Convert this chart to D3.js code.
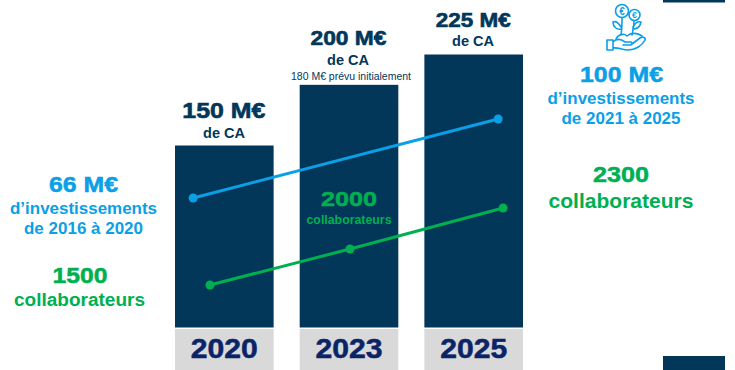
<!DOCTYPE html>
<html>
<head>
<meta charset="utf-8">
<script src="https://cdn.jsdelivr.net/npm/d3@7"></script>
<style>
  html, body { margin: 0; padding: 0; background: #fff; }
  text { font-family: "Liberation Sans", Arial, sans-serif; font-weight: bold; text-anchor: middle; }
</style>
</head>
<body>
<div id="chart"></div>
<script>
// chart values
var years = ["2020", "2023", "2025"];
var revenue = [150, 200, 225];
var revenueLabels = ["150 M€", "200 M€", "225 M€"];

// investment line : position is in bar slots (0 = centre of first bar)
var investSlots = [-0.25, 2.196];
var investValues = [66, 100];

// staff line
var staffSlots = [-0.115, 1.008, 2.236];
var staffValues = [1500, 2000, 2300];

var navy = "#02375a", blue = "#0a9fe6", green = "#00b050", yearColor = "#0a2468";

var svg = d3.select("#chart")
  .append("svg")
    .attr("width", 735)
    .attr("height", 370)
    .style("display", "block");

// X scale for the bars
var x = d3.scaleBand()
  .domain(years)
  .range([175, 523])
  .paddingInner(0.209)
  .paddingOuter(0);

// same horizontal space, counted in bar slots, for the lines
var slot = d3.scaleLinear()
  .domain([0, 2])
  .range([x("2020") + x.bandwidth() / 2, x("2025") + x.bandwidth() / 2]);

// Y scale : bars start at zero
var y = d3.scaleLinear()
  .domain([0, 225])
  .range([327.5, 54.5]);

var yInvest = d3.scaleLinear().domain([66, 100]).range([198, 119]);
var yStaff = d3.scaleLinear().domain([1500, 2000, 2300]).range([285, 249, 208]);

// Bars
svg.selectAll("rect.bar")
  .data(years)
  .enter()
  .append("rect")
    .attr("class", "bar")
    .attr("x", function(d) { return x(d); })
    .attr("y", function(d, i) { return y(revenue[i]); })
    .attr("width", x.bandwidth())
    .attr("height", function(d, i) { return y(0) - y(revenue[i]); })
    .attr("fill", navy);

// grey year boxes
svg.selectAll("rect.year")
  .data(years)
  .enter()
  .append("rect")
    .attr("class", "year")
    .attr("x", function(d) { return x(d); })
    .attr("y", 329)
    .attr("width", x.bandwidth())
    .attr("height", 41)
    .attr("fill", "#d9d9d9");

svg.selectAll("text.year")
  .data(years)
  .enter()
  .append("text")
    .attr("class", "year")
    .attr("x", function(d) { return x(d) + x.bandwidth() / 2; })
    .attr("y", 358)
    .attr("font-size", 27)
    .attr("textLength", 67)
    .attr("lengthAdjust", "spacingAndGlyphs")
    .attr("stroke", yearColor)
    .attr("stroke-width", 0.5)
    .attr("fill", yearColor)
    .text(function(d) { return d; });

// Lines
function drawLine(slots, values, yScale, color) {
  var pts = slots.map(function(s, i) { return [slot(s), yScale(values[i])]; });
  svg.append("path")
    .attr("d", d3.line()(pts))
    .attr("fill", "none")
    .attr("stroke", color)
    .attr("stroke-width", 3);
  svg.selectAll(null)
    .data(pts)
    .enter()
    .append("circle")
      .attr("cx", function(d) { return d[0]; })
      .attr("cy", function(d) { return d[1]; })
      .attr("r", 4.5)
      .attr("fill", color);
}
drawLine(investSlots, investValues, yInvest, blue);
drawLine(staffSlots, staffValues, yStaff, green);

// Big figures above the bars, the middle one sits higher because of the note under it
var revGap = [28, 40, 28];
var revSize = [22, 20, 20];
var revWidth = [83, 76, 75];
svg.selectAll("text.rev")
  .data(revenueLabels)
  .enter()
  .append("text")
    .attr("class", "rev")
    .attr("x", function(d, i) { return x(years[i]) + x.bandwidth() / 2 - 0.5; })
    .attr("y", function(d, i) { return y(revenue[i]) - revGap[i]; })
    .attr("font-size", function(d, i) { return revSize[i]; })
    .attr("textLength", function(d, i) { return revWidth[i]; })
    .attr("lengthAdjust", "spacingAndGlyphs")
    .attr("stroke", navy)
    .attr("stroke-width", 0.6)
    .attr("fill", navy)
    .text(function(d) { return d; });

// other text : [x, y, text, size, colour, width]
var notes = [
  [224, 138, "de CA", 15, navy, 42],
  [348, 64.5, "de CA", 15, navy, 42],
  [473, 45.5, "de CA", 15, navy, 42],
  [351, 80, "180 M€ prévu initialement", 10.5, navy, 120],
  [83.5, 192, "66 M€", 22, blue, 69],
  [83.5, 214, "d’investissements", 17, blue, 147],
  [83.5, 234, "de 2016 à 2020", 17, blue, 119],
  [80, 283, "1500", 22, green, 55],
  [79.5, 306, "collaborateurs", 18, green, 131],
  [621.5, 82, "100 M€", 22, blue, 83],
  [621, 104, "d’investissements", 17, blue, 147],
  [621, 124, "de 2021 à 2025", 17, blue, 119],
  [621, 182, "2300", 22, green, 56],
  [621, 208, "collaborateurs", 20, green, 145],
  [349, 206, "2000", 21, green, 56],
  [349, 224, "collaborateurs", 13, green, 85]
];
svg.selectAll("text.note")
  .data(notes)
  .enter()
  .append("text")
    .attr("class", "note")
    .attr("x", function(d) { return d[0]; })
    .attr("y", function(d) { return d[1]; })
    .attr("font-size", function(d) { return d[3]; })
    .style("font-weight", function(d) { return d[3] < 11 ? "normal" : "bold"; })
    .attr("fill", function(d) { return d[4]; })
    .attr("stroke", function(d) { return d[3] >= 21 ? d[4] : "none"; })
    .attr("stroke-width", 0.5)
    .attr("textLength", function(d) { return d[5]; })
    .attr("lengthAdjust", "spacingAndGlyphs")
    .text(function(d) { return d[2]; });

// little navy bars on the right edge
svg.append("rect").attr("x", 663).attr("y", 0).attr("width", 62).attr("height", 2.5).attr("fill", navy);
svg.append("rect").attr("x", 663).attr("y", 356).attr("width", 62).attr("height", 14).attr("fill", navy);

// money plant icon
var icon = svg.append("g")
  .attr("fill", "none")
  .attr("stroke", blue)
  .attr("stroke-width", 1.6)
  .attr("stroke-linecap", "round")
  .attr("stroke-linejoin", "round");
icon.append("circle").attr("cx", 622).attr("cy", 11).attr("r", 6.5);
icon.append("circle").attr("cx", 634.5).attr("cy", 15).attr("r", 5.5);
icon.selectAll(null)
  .data([[622, 14.5, 10], [634.5, 18, 9]])
  .enter()
  .append("text")
    .attr("x", function(d) { return d[0]; })
    .attr("y", function(d) { return d[1]; })
    .attr("font-size", function(d) { return d[2]; })
    .attr("stroke", "none")
    .attr("fill", blue)
    .text("€");
icon.append("path").attr("d", "M622 18 C622 24 622 29 621 35 M634 21 C634 26 633 30 632 35");
icon.append("path").attr("d", "M621 27 C618 22 615 21 613 22 C613 27 617 30 621 29 M633 27 C635 23 638 21 641 22 C640 27 637 29 633 29");
icon.append("path").attr("d", "M616 39 C618 34 624 33 627 36 C631 32 638 33 642 36");
icon.append("path").attr("d", "M607 40 L613 40 L613 50 L607 50 Z M613 42 C617 38 621 39 625 42 L631 42 C633 43 632 45 630 45 L623 45 M632 44 L640 38 C643 36 646 38 645 40 C642 46 635 50 628 50 C622 50 618 47 613 48");
</script>
</body>
</html>
